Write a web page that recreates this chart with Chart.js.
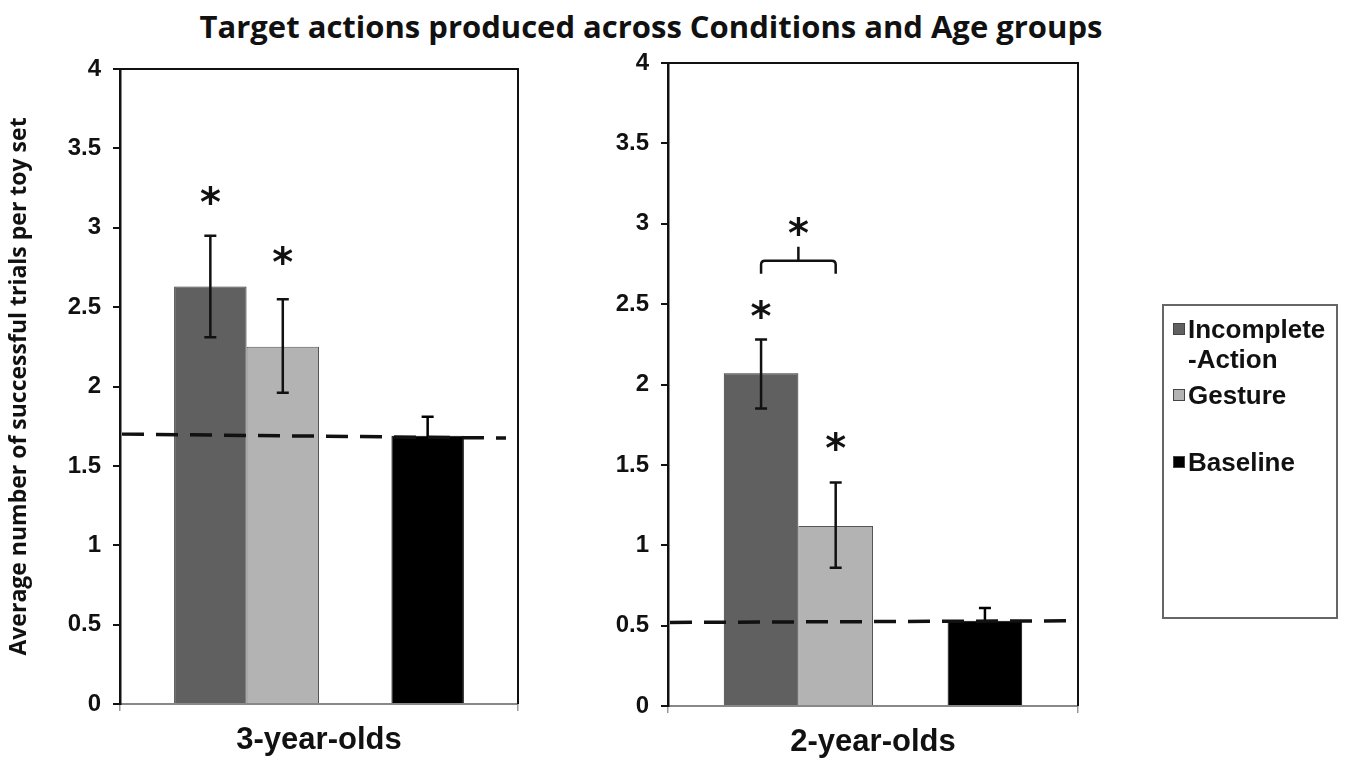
<!DOCTYPE html>
<html>
<head>
<meta charset="utf-8">
<script src="https://cdn.jsdelivr.net/npm/chart.js@4"></script>
<style>
  body { margin: 0; background: #fff; }
  #wrap { position: relative; width: 1346px; height: 771px; overflow: hidden; }
  canvas { position: absolute; top: 0; }
  #title {
    position: absolute; left: 0; top: 5px; width: 1302px; text-align: center;
    font: bold 31px "Open Sans", sans-serif; color: #111;
  }
  #legend {
    position: absolute; left: 1162px; top: 304px; width: 172px; height: 311px;
    border: 2px solid #666; font: bold 26px "Liberation Sans", Arial, sans-serif; color: #111;
  }
  .item { position: absolute; left: 9px; line-height: 30px; }
  .sw { position: absolute; left: 0; top: 9px; width: 10px; height: 10px; border: 1px solid #444; }
  .txt { position: absolute; left: 15px; white-space: nowrap; }
</style>
</head>
<body>
<div id="wrap">
  <div id="title">Target actions produced across Conditions and Age groups</div>
  <canvas id="left" width="545" height="771" style="left:0"></canvas>
  <canvas id="right" width="801" height="771" style="left:545px"></canvas>
  <div id="legend"></div>
</div>
<script>
// data
const groups = ['3-year-olds', '2-year-olds'];
const conditions = ['Incomplete-Action', 'Gesture', 'Baseline'];
const incompleteAction = [2.63, 2.07];
const gesture = [2.25, 1.12];
const baseline = [1.69, 0.53];
const iaHigh = [2.95, 2.28], iaLow = [2.31, 1.85];
const gesHigh = [2.55, 1.39], gesLow = [1.96, 0.86];
const baseHigh = [1.81, 0.61], baseLow = [1.57, 0.45];
const chanceStart = [1.70, 0.52];
const chanceEnd = [1.675, 0.53];
const starIA = [3.22, 2.48];
const starGes = [2.84, 1.66];
const bracketY = [null, 2.77];
const bracketStar = [null, 3.0];
const yMin = 0, yMax = 4, yStep = 0.5;

const colors = ['#606060', '#b3b3b3', '#000000'];
const borders = ['#333333', '#555555', '#000000'];
const tickFont = { family: 'Liberation Sans', weight: 'bold', size: 24 };

function drawStar(ctx, x, y) {
  ctx.save();
  ctx.fillStyle = '#111';
  ctx.font = 'bold 40px "DejaVu Sans"';
  ctx.textAlign = 'center';
  ctx.textBaseline = 'alphabetic';
  ctx.fillText('*', x, y + 23);
  ctx.restore();
}

const extras = {
  id: 'extras',
  afterDatasetsDraw(chart, args, opts) {
    const i = opts.panel;
    const { ctx, chartArea: a } = chart;
    const y = chart.scales.y;
    const barX = k => chart.getDatasetMeta(k).data[0].x;
    const bars = [[0, iaLow, iaHigh], [1, gesLow, gesHigh], [3, baseLow, baseHigh]];

    // error bars
    ctx.save();
    ctx.lineWidth = 2.5;
    bars.forEach(([k, lo, hi]) => {
      ctx.strokeStyle = k === 3 ? '#000' : '#111';
      const x = barX(k), y1 = y.getPixelForValue(lo[i]), y2 = y.getPixelForValue(hi[i]);
      ctx.beginPath();
      ctx.moveTo(x, y1); ctx.lineTo(x, y2);
      ctx.moveTo(x - 6, y1); ctx.lineTo(x + 6, y1);
      ctx.moveTo(x - 6, y2); ctx.lineTo(x + 6, y2);
      ctx.stroke();
    });

    // chance line
    ctx.strokeStyle = '#111';
    ctx.setLineDash([22, 12]);
    ctx.lineWidth = 3.5;
    ctx.beginPath();
    ctx.moveTo(a.left + 2, y.getPixelForValue(chanceStart[i]));
    ctx.lineTo(a.right - 12, y.getPixelForValue(chanceEnd[i]));
    ctx.stroke();
    ctx.setLineDash([]);

    // plot box top and right
    ctx.lineWidth = 2;
    ctx.beginPath();
    ctx.moveTo(a.left, a.top); ctx.lineTo(a.right, a.top); ctx.lineTo(a.right, a.bottom);
    ctx.stroke();

    // bracket
    if (bracketY[i] !== null) {
      const x1 = barX(0), x2 = barX(1), xm = (x1 + x2) / 2;
      const by = y.getPixelForValue(bracketY[i]);
      ctx.lineWidth = 2.5;
      ctx.beginPath();
      ctx.moveTo(x1, by + 13);
      ctx.lineTo(x1, by + 4);
      ctx.quadraticCurveTo(x1, by, x1 + 4, by);
      ctx.lineTo(x2 - 4, by);
      ctx.quadraticCurveTo(x2, by, x2, by + 4);
      ctx.lineTo(x2, by + 13);
      ctx.moveTo(xm, by);
      ctx.lineTo(xm, by - 14);
      ctx.stroke();
      drawStar(ctx, xm, y.getPixelForValue(bracketStar[i]));
    }
    ctx.restore();

    drawStar(ctx, barX(0), y.getPixelForValue(starIA[i]));
    drawStar(ctx, barX(1), y.getPixelForValue(starGes[i]));
  }
};

function makePanel(id, i, geo) {
  const series = [incompleteAction, gesture, baseline];
  const datasets = [];
  series.forEach((s, k) => {
    if (k === 2) datasets.push({ label: '', data: [null] }); // empty slot before baseline
    datasets.push({
      label: conditions[k],
      data: [s[i]],
      backgroundColor: colors[k],
      borderColor: borders[k],
      borderWidth: 1
    });
  });
  return new Chart(document.getElementById(id), {
    type: 'bar',
    data: { labels: [groups[i]], datasets },
    options: {
      responsive: false,
      animation: false,
      events: [],
      categoryPercentage: 0.728,
      barPercentage: 1,
      layout: { padding: { top: geo.top, right: geo.right, bottom: 0, left: 0 } },
      plugins: {
        legend: { display: false },
        tooltip: { enabled: false },
        extras: { panel: i }
      },
      scales: {
        x: {
          grid: { drawOnChartArea: false, tickLength: 7, color: '#999', lineWidth: 1.5 },
          border: { color: '#888', width: 2 },
          ticks: { color: '#111', font: { family: 'Liberation Sans', weight: 'bold', size: 31 }, padding: 11 },
          afterFit: s => { s.height = geo.xh; }
        },
        y: {
          min: yMin, max: yMax,
          ticks: { stepSize: yStep, color: '#111', font: tickFont, padding: 12, callback: v => String(v) },
          grid: { drawOnChartArea: false, tickLength: 7, color: '#111', lineWidth: 2 },
          border: { color: '#111', width: 2.5 },
          title: {
            display: geo.yTitle,
            text: 'Average number of successful trials per toy set',
            color: '#111',
            font: { family: 'Open Sans', weight: 'bold', size: 23 },
            padding: { top: 6, bottom: 0 }
          },
          afterFit: s => { s.width = geo.yw; }
        }
      }
    },
    plugins: [extras]
  });
}

makePanel('left', 0, { top: 69, right: 27, xh: 67, yw: 120, yTitle: true });
makePanel('right', 1, { top: 63, right: 268, xh: 65, yw: 123, yTitle: false });

// legend
const legendTops = [8, 74, 141];
const legendText = ['Incomplete<br>-Action', 'Gesture', 'Baseline'];
const leg = document.getElementById('legend');
conditions.forEach((c, k) => {
  const d = document.createElement('div');
  d.className = 'item';
  d.style.top = legendTops[k] + 'px';
  d.innerHTML = '<div class="sw" style="background:' + colors[k] + '"></div><div class="txt">' + legendText[k] + '</div>';
  leg.appendChild(d);
});
</script>
</body>
</html>
